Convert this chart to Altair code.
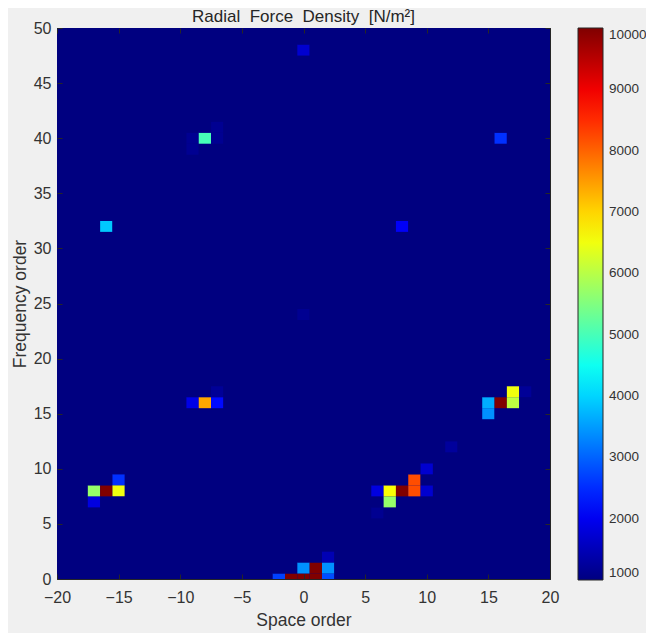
import altair as alt
import pandas as pd

# ---------------- data ----------------
BASE_VALUE = 1000  # background level (at or below colour floor)
cell_x = [0, -8, -7, -7, -9, -9, 16, -16, 8, 0,
          -9, -8, -7, -7, -17, -16, -15, -15, -17,
          15, 15, 16, 17, 17, 18, 12, 10, 9, 9, 10, 8, 7, 7, 6, 6,
          -2, -1, 0, 1, 2, 0, 1, 2, 2]
cell_y = [48, 40, 41, 40, 40, 39, 40, 32, 32, 24,
          16, 16, 16, 17, 8, 8, 8, 9, 7,
          16, 15, 16, 16, 17, 17, 12, 10, 9, 8, 8, 8, 8, 7, 8, 6,
          0, 0, 0, 0, 0, 1, 1, 1, 2]
cell_v = [1700, 5000, 1150, 1150, 1150, 1150, 2550, 3900, 2050, 1150,
          1900, 7400, 2200, 1200, 5700, 10000, 6500, 2550, 1850,
          3650, 3400, 10000, 6050, 6500, 1200, 1250, 1700, 8200, 8200, 1700, 10000, 6600, 5700, 1850, 1150,
          2700, 10000, 10000, 10000, 2800, 3400, 10000, 3400, 1450]

x_range = list(range(-20, 21))
y_range = list(range(0, 51))
x_ticks = list(range(-20, 21, 5))
y_ticks = list(range(0, 51, 5))
cbar_ticks = list(range(1000, 10001, 1000))
jet_stops = [1000, 2125, 4375, 6625, 8875, 10000]
jet_colors = ["#000080", "#0000ff", "#00ffff", "#ffff00", "#ff0000", "#800000"]

grid = {(x, y): BASE_VALUE for x in x_range for y in y_range}
for x, y, v in zip(cell_x, cell_y, cell_v):
    grid[(x, y)] = v
df = pd.DataFrame([{"x": x, "y": y, "v": v} for (x, y), v in grid.items()])

# ---------------- styling ----------------
FONT = "Liberation Sans"
TXT = "#333333"
W, H = 493, 551
SP = " \u00a0"  # wide gap between title words

xscale = alt.Scale(domain=[-20, 20], nice=False, zero=False)
yscale = alt.Scale(domain=[0, 50], nice=False, zero=False)

tick_style = dict(offset=-5, tickSize=5, tickColor="#262626", tickWidth=1,
                  domain=False, grid=False, zindex=1)

x_bottom = alt.Axis(values=x_ticks, orient="bottom", **tick_style, labelFont=FONT, labelFontSize=16,
                    labelColor=TXT, labelPadding=10, labelFlush=False, title="Space order",
                    titleFont=FONT, titleFontSize=17.5, titleFontWeight="normal", titleColor=TXT,
                    titlePadding=6)
y_left = alt.Axis(values=y_ticks, orient="left", **tick_style, labelFont=FONT, labelFontSize=16,
                  labelColor=TXT, labelPadding=6, labelFlush=False, title="Frequency order",
                  titleFont=FONT, titleFontSize=17.5, titleFontWeight="normal", titleColor=TXT,
                  titlePadding=4)
x_top = alt.Axis(values=x_ticks, orient="top", **tick_style, labels=False, title=None)
y_right = alt.Axis(values=y_ticks, orient="right", **tick_style, labels=False, title=None)

color = alt.Color(
    "v:Q",
    scale=alt.Scale(domain=jet_stops, range=jet_colors, clamp=True, interpolate="rgb"),
    legend=alt.Legend(title=None, orient="none", legendX=521, legendY=0, direction="vertical",
                      gradientLength=552, gradientThickness=25, values=cbar_ticks,
                      labelFontSize=13.5, labelFont=FONT, labelColor=TXT, labelOffset=6,
                      labelBaseline="middle", labelOverlap=False, labelLimit=60,
                      gradientStrokeColor="#262626", gradientStrokeWidth=1, format="d"),
)

base = alt.Chart(df).transform_calculate(
    x0="datum.x - 0.5", x1="datum.x + 0.5",
    y0="max(datum.y - 0.5, 0)", y1="datum.y + 0.5",
)

heat = base.mark_rect(clip=True, strokeWidth=0).encode(
    x=alt.X("x0:Q", scale=xscale, axis=x_bottom),
    x2="x1:Q",
    y=alt.Y("y0:Q", scale=yscale, axis=y_left),
    y2="y1:Q",
    color=color,
)

frame = base.mark_rect(opacity=0, clip=True).encode(
    x=alt.X("x0:Q", scale=xscale, axis=x_top),
    x2="x1:Q",
    y=alt.Y("y0:Q", scale=yscale, axis=y_right),
    y2="y1:Q",
)

chart = (
    alt.layer(heat, frame)
    .resolve_axis(x="independent", y="independent")
    .properties(
        width=W, height=H,
        title=alt.TitleParams(f"Radial{SP}Force{SP}Density{SP}[N/m²]", font=FONT, fontSize=17,
                              fontWeight="normal", color="#262626", offset=-6, anchor="middle"),
        background="#f0f0f0",
        autosize=alt.AutoSizeParams(type="none"),
        padding={"left": 49, "top": 20, "right": 96, "bottom": 54},
    )
    .configure_view(fill="#000080", stroke="#262626", strokeWidth=1)
)

chart.save("out.html", embed_options={"renderer": "svg", "actions": False})
